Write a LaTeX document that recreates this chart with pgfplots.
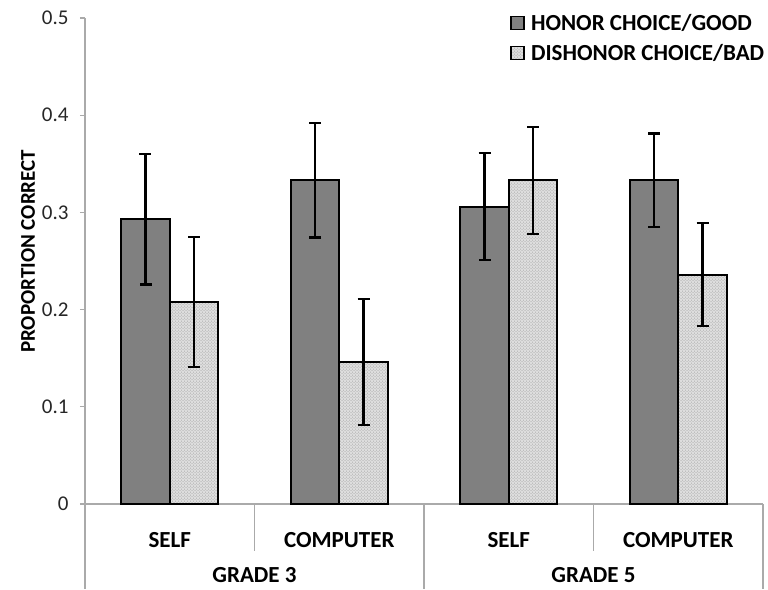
\documentclass[border=0pt]{standalone}
\usepackage{pgfplots}
\pgfplotsset{compat=1.18}
\usepackage{fontspec}
\setmainfont{Carlito}
\usetikzlibrary{patterns}

\definecolor{honor}{RGB}{128,128,128}
\definecolor{dishonor}{RGB}{222,222,222}
\definecolor{axisgray}{RGB}{170,170,170}

\begin{document}
\begin{tikzpicture}
\begin{axis}[
  scale only axis,
  width=678pt, height=486pt,
  xmin=-0.5, xmax=3.5,
  ymin=0, ymax=0.5,
  ytick={0,0.1,...,0.5},
  yticklabels={0,0.1,0.2,0.3,0.4,0.5},
  xtick={0,1,2,3},
  xticklabels={SELF,COMPUTER,SELF,COMPUTER},
  axis x line*=bottom,
  axis y line*=left,
  axis line style={axisgray, line width=1.2pt},
  tick align=outside,
  major tick length=5pt,
  x tick style={draw=none},
  y tick style={axisgray, line width=1.2pt},
  /pgf/number format/assume math mode=true,
  yticklabel style={font=\fontsize{21}{24}\selectfont, text=black!85, xshift=-8pt},
  xticklabel style={font=\fontsize{23}{26}\selectfont\bfseries, anchor=center, yshift=-31pt},
  ylabel={\textbf{PROPORTION CORRECT}},
  ylabel style={font=\fontsize{21}{24}\selectfont},
  every axis y label/.append style={at={(ticklabel cs:0.52)}},
  ybar=0pt,
  bar width=48.5pt,
  clip=false,
  legend style={draw=none, fill=none, at={(rel axis cs:1.005,1.012)}, anchor=north east,
    font=\fontsize{23}{26}\selectfont\bfseries, row sep=8pt, inner sep=0pt},
  legend cell align=left,
  legend image code/.code={\draw[#1, line width=1.2pt] (0pt,-6.5pt) rectangle (13pt,6.5pt);\path (17pt,0pt);},
  error bars/y dir=both,
  error bars/y explicit,
  error bars/error bar style={black, line width=2.2pt},
  error bars/error mark options={rotate=90, mark size=6pt, line width=2.4pt, black},
]
\addplot[draw=black, line width=2pt, fill=honor]
  coordinates {(0,0.293) +- (0,0.067) (1,0.333) +- (0,0.059) (2,0.306) +- (0,0.055) (3,0.333) +- (0,0.048)};
\addplot[draw=black, line width=2pt, fill=dishonor,
  postaction={pattern=crosshatch dots, pattern color=gray!75}]
  coordinates {(0,0.208) +- (0,0.067) (1,0.146) +- (0,0.065) (2,0.333) +- (0,0.055) (3,0.236) +- (0,0.053)};
\legend{HONOR CHOICE/GOOD, DISHONOR CHOICE/BAD}

% category separators under the axis
\draw[axisgray, line width=1.2pt] (axis cs:0.5,0) -- ([yshift=-47pt]axis cs:0.5,0);
\draw[axisgray, line width=1.2pt] (axis cs:2.5,0) -- ([yshift=-47pt]axis cs:2.5,0);
\draw[axisgray, line width=1.2pt] (axis cs:-0.5,0) -- ([yshift=-85pt]axis cs:-0.5,0);
\draw[axisgray, line width=1.2pt] (axis cs:1.5,0) -- ([yshift=-85pt]axis cs:1.5,0);
\draw[axisgray, line width=1.2pt] (axis cs:3.5,0) -- ([yshift=-85pt]axis cs:3.5,0);
% grade labels
\node[font=\fontsize{23}{26}\selectfont\bfseries] at ([yshift=-71pt]axis cs:0.5,0) {GRADE 3};
\node[font=\fontsize{23}{26}\selectfont\bfseries] at ([yshift=-71pt]axis cs:2.5,0) {GRADE 5};
\end{axis}
\path[use as bounding box] (-85pt,-85pt) rectangle (683pt,504pt);
\end{tikzpicture}
\end{document}
